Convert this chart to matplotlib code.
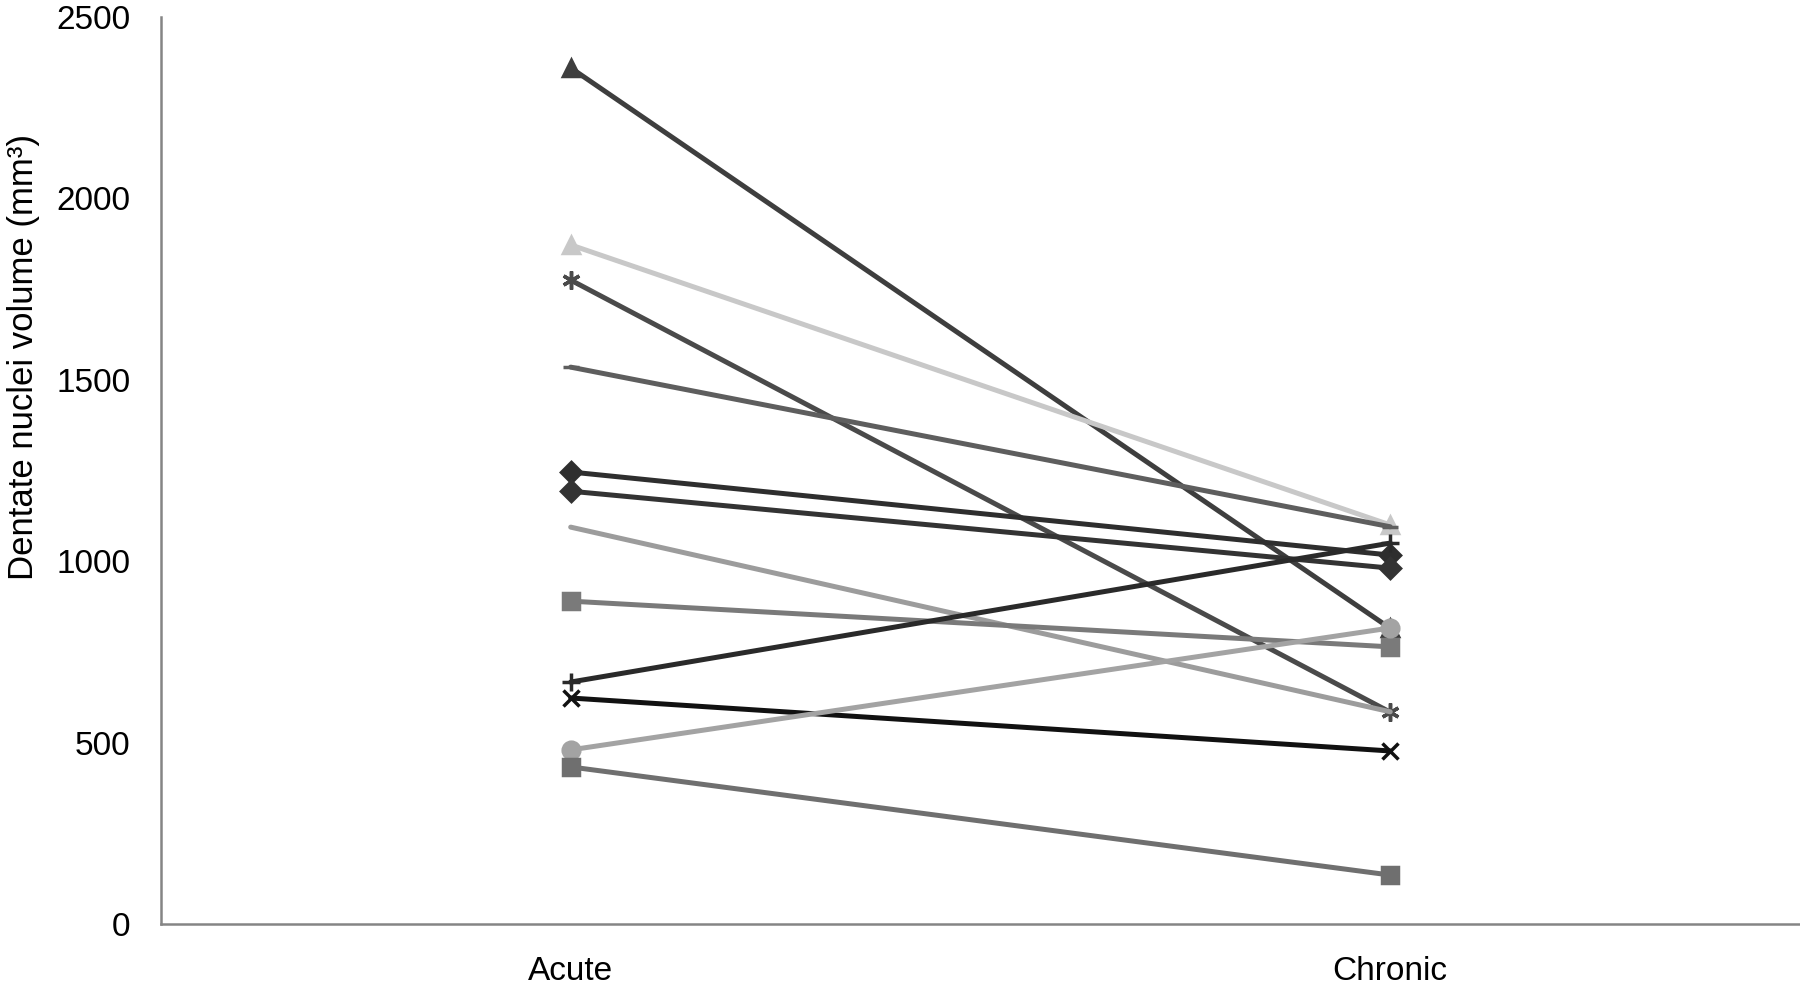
import matplotlib
matplotlib.use("Agg")
import matplotlib.pyplot as plt

plt.rcParams['font.family'] = ['Liberation Sans', 'DejaVu Sans']

# phases on the x axis
phases = ["Acute", "Chronic"]

# dentate nuclei volume (mm3) per patient: acute, chronic
acute = [2360, 1872, 1775, 1535, 1246, 1193, 1094, 890, 667, 623, 480, 433]
chronic = [815, 1100, 584, 1095, 1017, 981, 585, 764, 1050, 477, 816, 135]

# marker and grey level per patient line
markers = ["^", "^", (6, 2, 0), "_", "D", "D", "", "s", "+", "x", "o", "s"]
colors = ["#3e3e3e", "#c8c8c8", "#4a4a4a", "#5e5e5e", "#2e2e2e", "#333333",
          "#9c9c9c", "#7a7a7a", "#2a2a2a", "#111111", "#a3a3a3", "#6f6f6f"]
msizes = [12, 12, 13, 12, 10, 10, 0, 11, 13, 11, 12, 11]

fig = plt.figure(figsize=(18, 9.85), dpi=100)
ax = fig.add_axes([0.0894, 0.0619, 0.9106, 0.9208])

xs = list(range(len(phases)))
for a, c, m, col, ms in zip(acute, chronic, markers, colors, msizes):
    ax.plot(xs, [a, c], color=col, linewidth=3.6, marker=m if m else None,
            markersize=ms, markeredgewidth=2.5, markerfacecolor=col,
            markeredgecolor=col, solid_capstyle="round")

ax.set_xlim(-0.5, 1.5)
ax.set_ylim(0, 2500)
ax.set_xticks(xs)
ax.set_xticklabels(phases)
ax.set_yticks([0, 500, 1000, 1500, 2000, 2500])
ax.tick_params(axis="both", length=0, labelsize=24)
ax.tick_params(axis="y", pad=22)
ax.tick_params(axis="x", pad=23)

for side in ["top", "right"]:
    ax.spines[side].set_visible(False)
for side in ["left", "bottom"]:
    ax.spines[side].set_color("#858585")
    ax.spines[side].set_linewidth(1.8)

ax.set_ylabel("Dentate nuclei volume (mm³)", fontsize=25)
ax.yaxis.set_label_coords(-0.074, 0.625)

fig.savefig("out.png", dpi=100)
